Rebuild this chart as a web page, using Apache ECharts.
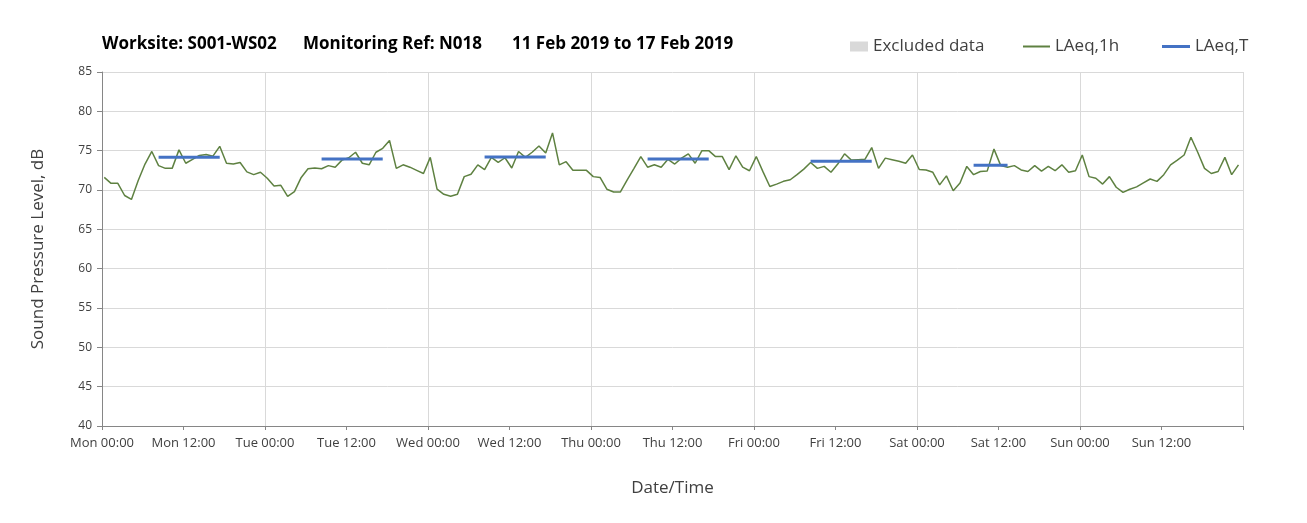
<!DOCTYPE html>
<html>
<head>
<meta charset="utf-8">
<script src="https://cdn.jsdelivr.net/npm/echarts@6/dist/echarts.min.js"></script>
<style>
  html, body { margin: 0; padding: 0; background: #fff; }
  #chart { width: 1307px; height: 523px; }
</style>
</head>
<body>
<div id="chart"></div>
<script>
// hourly LAeq,1h readings, Mon 00:00 .. Sun 23:00
const levels1h = [
  71.6, 70.85, 70.85, 69.3, 68.8, 71.2, 73.3, 74.9, 73.1, 72.75, 72.75, 75.1,
  73.4, 73.9, 74.4, 74.5, 74.3, 75.55, 73.4, 73.3, 73.5, 72.3, 71.95, 72.25,
  71.5, 70.5, 70.6, 69.2, 69.8, 71.6, 72.7, 72.8, 72.7, 73.1, 72.9, 73.8,
  74.1, 74.8, 73.4, 73.2, 74.8, 75.3, 76.3, 72.75, 73.2, 72.9, 72.5, 72.1,
  74.15, 70.1, 69.45, 69.2, 69.45, 71.7, 72.0, 73.2, 72.6, 74.15, 73.5, 74.1,
  72.8, 74.9, 74.15, 74.8, 75.6, 74.7, 77.25, 73.2, 73.6, 72.5, 72.5, 72.5,
  71.7, 71.6, 70.1, 69.75, 69.75, 71.3, 72.75, 74.25, 72.9, 73.2, 72.9, 73.9,
  73.3, 74.05, 74.6, 73.4, 75.0, 75.0, 74.25, 74.25, 72.6, 74.35, 72.9, 72.45,
  74.25, 72.3, 70.45, 70.75, 71.1, 71.3, 71.95, 72.65, 73.5, 72.75, 73.0, 72.25,
  73.3, 74.6, 73.8, 73.85, 73.9, 75.4, 72.75, 74.05, 73.85, 73.65, 73.4, 74.45,
  72.6, 72.55, 72.25, 70.65, 71.8, 69.9, 70.9, 73.0, 71.95, 72.35, 72.4, 75.2,
  73.1, 72.9, 73.1, 72.55, 72.35, 73.1, 72.4, 73.0, 72.45, 73.2, 72.25, 72.45,
  74.45, 71.7, 71.5, 70.75, 71.7, 70.35, 69.7, 70.1, 70.4, 70.9, 71.4, 71.1,
  71.95, 73.2, 73.8, 74.45, 76.7, 74.8, 72.75, 72.1, 72.35, 74.15, 71.95, 73.2
]
// readings are stamped 20 min past the hour
const sampleOffset = 1 / 3

// LAeq,T over the working periods (day index, start hour, end hour, level)
const periodDays = [0, 1, 2, 3, 4, 5]
const periodStart = [8, 8, 8, 8, 8, 8]
const periodEnd = [17, 17, 17, 17, 17, 13]
const periodLevels = [74.15, 73.95, 74.2, 73.95, 73.65, 73.15]

const dayNames = ['Mon', 'Tue', 'Wed', 'Thu', 'Fri', 'Sat', 'Sun']
const titleParts = ['Worksite: S001-WS02', 'Monitoring Ref: N018', '11 Feb 2019 to 17 Feb 2019']

const font = 'Open Sans'
const textColor = '#404040'
const green = '#5E8141'
const blue = '#4472C4'

const lineData = levels1h.map((v, i) => [i + sampleOffset, v])

const periodSeries = periodDays.map((d, k) => ({
  name: 'LAeq,T',
  type: 'line',
  symbol: 'none',
  color: blue,
  lineStyle: { width: 3, color: blue },
  data: [
    [d * 24 + periodStart[k] + sampleOffset, periodLevels[k]],
    [d * 24 + periodEnd[k] + sampleOffset, periodLevels[k]]
  ],
  z: 3
}))

const legendText = { fontFamily: font, fontSize: 17, color: textColor }

const chart = echarts.init(document.getElementById('chart'))
chart.setOption({
  animation: false,
  textStyle: { fontFamily: font },
  title: [
    { text: titleParts[0], left: 97 },
    { text: titleParts[1], left: 298 },
    { text: titleParts[2], left: 507 }
  ].map(t => ({
    ...t,
    top: 31,
    textStyle: { fontFamily: font, fontSize: 17, fontWeight: 'bold', color: '#000' }
  })),
  // three legends so each icon can have its own size
  legend: [
    {
      data: [{ name: 'Excluded data', icon: 'rect' }],
      left: 845,
      top: 33,
      itemWidth: 18,
      itemHeight: 10,
      textStyle: legendText
    },
    {
      data: [{ name: 'LAeq,1h', icon: 'rect' }],
      left: 1018,
      top: 33,
      itemWidth: 27,
      itemHeight: 2,
      textStyle: legendText
    },
    {
      data: [{ name: 'LAeq,T', icon: 'rect' }],
      left: 1157,
      top: 33,
      itemWidth: 28,
      itemHeight: 3,
      textStyle: legendText
    }
  ],
  grid: { left: 102, right: 64, top: 72, bottom: 97 },
  xAxis: [
    {
      type: 'value',
      min: 0,
      max: 168,
      interval: 12,
      name: 'Date/Time',
      nameLocation: 'middle',
      nameGap: 54,
      nameTextStyle: { fontFamily: font, fontSize: 17, color: textColor },
      axisLine: { lineStyle: { color: '#868686' } },
      axisTick: { length: 4, lineStyle: { color: '#868686' } },
      splitLine: { show: false },
      axisLabel: {
        fontFamily: font,
        fontSize: 13,
        color: textColor,
        margin: 11,
        formatter: v => {
          if (v >= 168) return ''
          const day = dayNames[Math.floor(v / 24)]
          const hh = String(v % 24).padStart(2, '0')
          return day + ' ' + hh + ':00'
        }
      }
    },
    {
      type: 'value',
      min: 0,
      max: 168,
      interval: 24,
      position: 'bottom',
      axisLine: { show: false },
      axisTick: { show: false },
      axisLabel: { show: false },
      splitLine: { show: true, lineStyle: { color: '#d9d9d9' } }
    }
  ],
  yAxis: {
    type: 'value',
    min: 40,
    max: 85,
    interval: 5,
    name: 'Sound Pressure Level, dB',
    nameLocation: 'middle',
    nameGap: 55,
    nameTextStyle: { fontFamily: font, fontSize: 17, color: textColor },
    axisLine: { show: true, lineStyle: { color: '#868686' } },
    axisTick: { show: true, length: 5, lineStyle: { color: '#868686' } },
    splitLine: { lineStyle: { color: '#d9d9d9' } },
    axisLabel: { fontFamily: font, fontSize: 12, color: textColor, margin: 10 }
  },
  series: [
    {
      name: 'Excluded data',
      type: 'bar',
      color: '#d9d9d9',
      data: []
    },
    {
      name: 'LAeq,1h',
      type: 'line',
      symbol: 'none',
      color: green,
      lineStyle: { width: 1.5, color: green },
      data: lineData,
      z: 2
    },
    ...periodSeries
  ]
})
</script>
</body>
</html>
